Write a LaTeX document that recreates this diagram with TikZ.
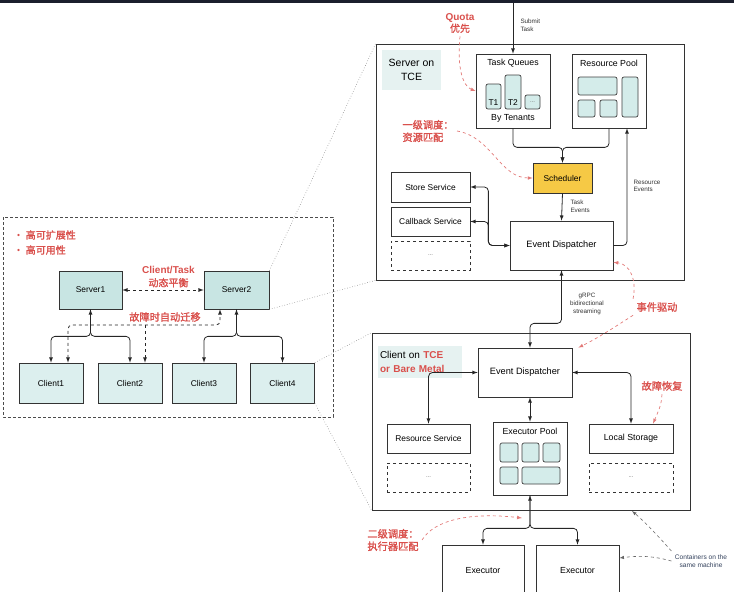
\documentclass[tikz,border=0pt]{standalone}
\usepackage{fontspec}
\setmainfont{Liberation Sans}
\newfontfamily\cjk{Noto Sans CJK SC}[AutoFakeBold=1.6]
\usepackage{xcolor}
\usepackage{tikz}
\usetikzlibrary{calc}

\definecolor{topbar}{HTML}{1B1F2D}
\definecolor{srvteal}{HTML}{C8E5E3}
\definecolor{cliteal}{HTML}{DCEFEE}
\definecolor{tileteal}{HTML}{D4ECEA}
\definecolor{lblbg}{HTML}{E6F2F1}
\definecolor{redtxt}{HTML}{D9504C}
\definecolor{redln}{HTML}{E27A78}
\definecolor{schedy}{HTML}{F6C945}
\definecolor{ctnblue}{HTML}{33415C}

\begin{document}
\begin{tikzpicture}[x=1pt,y=-1pt,
    every node/.style={font=\fontsize{8.4}{10}\selectfont},
    blk/.style={draw=black!80,line width=0.7pt,inner sep=0pt,fill=white},
    tile/.style={draw=black!75,line width=0.7pt,fill=tileteal,rounded corners=2pt},
    lbl/.style={fill=lblbg,inner sep=0pt},
    conn/.style={draw=black!85,line width=0.8pt,rounded corners=4pt},
    small/.style={font=\fontsize{6.3}{7.6}\selectfont,text=black!80,align=left},
    dots/.style={font=\fontsize{6}{7}\selectfont,text=black!60},
    redcn/.style={text=redtxt,font=\cjk\bfseries\fontsize{10.2}{12.5}\selectfont,align=left},
    redarr/.style={draw=redln,dashed,line width=0.7pt,-latex},
    ctnarr/.style={draw=black!60,dashed,line width=0.6pt,-latex},
    zoomln/.style={draw=black!45,dotted,line width=0.6pt}]
    \useasboundingbox (0,0) rectangle (734,592);
    \fill[topbar] (0,0) rectangle (734,2.5);

    \draw[black!70,densely dashed,line width=0.7pt] (3,217) rectangle (333,417);
    \node[redcn,anchor=west,font=\cjk\bfseries\fontsize{10}{15}\selectfont] (feat) at (10,242.5) {• 高可扩展性\\• 高可用性};
    \node[blk,fill=srvteal,minimum width=63pt,minimum height=38pt] (s1) at (90.5,290) {Server1};
    \node[blk,fill=srvteal,minimum width=65pt,minimum height=38pt] (s2) at (236.5,290) {Server2};
    \node[blk,fill=cliteal,minimum width=64pt,minimum height=40pt] (c1) at (51,383) {Client1};
    \node[blk,fill=cliteal,minimum width=64pt,minimum height=40pt] (c2) at (130,383) {Client2};
    \node[blk,fill=cliteal,minimum width=64pt,minimum height=40pt] (c3) at (204,383) {Client3};
    \node[blk,fill=cliteal,minimum width=64pt,minimum height=40pt] (c4) at (282.5,383) {Client4};
    \node[text=redtxt,align=center,font=\fontsize{10}{12.5}\selectfont] (bal) at (168.5,277) {\bfseries Client/Task\\{\cjk\bfseries 动态平衡}};
    \node[redcn] (migl) at (165,317) {故障时自动迁移};
    \draw[conn,dashed,latex-latex] (s1.east) -- (s2.west);
    \draw[conn,latex-latex] (s1.south) -- ++(0,27) -| (c1.north);
    \draw[conn,-latex] (s1.south) -- ++(0,27) -| (c2.north);
    \draw[conn,latex-latex] (s2.south) -- ++(0,27) -| (c3.north);
    \draw[conn,-latex] (s2.south) -- ++(0,27) -| (c4.north);
    \coordinate (mig) at (220,325);
    \draw[conn,dashed,latex-latex] ([xshift=17pt]c1.north) |- (mig) -- ([xshift=-16.5pt]s2.south);
    \draw[conn,dashed,-latex] ([xshift=15pt]c2.north |- mig) -- ([xshift=15pt]c2.north);

    \node[blk,fill=none,minimum width=308pt,minimum height=236pt] (srvbox) at (530,162) {};
    \node[lbl,minimum width=59pt,minimum height=40pt,align=center,font=\fontsize{10.5}{14}\selectfont] (srvlbl) at (411.5,70) {Server on\\TCE};
    \node[blk,minimum width=74pt,minimum height=74pt] (tq) at (513,91) {};
    \node[font=\fontsize{8.8}{10}\selectfont] (tqt) at (513,63) {Task Queues};
    \draw[tile] (486,84) rectangle (501,109);
    \draw[tile] (505,75) rectangle (521,109);
    \draw[tile] (525,95) rectangle (540,109);
    \node (t1) at (493.5,102.5) {T1};
    \node (t2) at (513,102.5) {T2};
    \node[dots] (t3) at (532.5,102) {...};
    \node[font=\fontsize{8.8}{10}\selectfont] (bytn) at (513,118) {By Tenants};
    \node[blk,minimum width=74pt,minimum height=74pt] (rp) at (609,91) {};
    \node[font=\fontsize{8.8}{10}\selectfont] (rpt) at (609,63) {Resource Pool};
    \draw[tile] (578,77) rectangle (617,95);
    \draw[tile] (622,77) rectangle (638,117);
    \draw[tile] (578,100) rectangle (595,117);
    \draw[tile] (600,100) rectangle (617,117);
    \node[blk,fill=schedy,minimum width=59pt,minimum height=30pt] (sched) at (562.5,178) {Scheduler};
    \node[blk,minimum width=103pt,minimum height=49pt,font=\fontsize{9.2}{11}\selectfont] (sed) at (561.5,245.5) {Event Dispatcher};
    \node[blk,minimum width=79pt,minimum height=30pt] (store) at (430.5,187) {Store Service};
    \node[blk,minimum width=79pt,minimum height=29pt] (cb) at (430.5,221.5) {Callback Service};
    \node[blk,dashed,minimum width=79pt,minimum height=29pt,font=\fontsize{6}{7}\selectfont,text=black!60] (sdots) at (430.5,255.5) {...};
    \coordinate (sub) at (513,3);
    \node[small,anchor=west] (subt) at (517,25) {Submit\\Task};
    \node[small,anchor=west] (tevt) at (567,206) {Task\\Events};
    \node[small,anchor=west] (revt) at (630,186) {Resource\\Events};
    \draw[conn,-latex] (sub) -- (tq.north);
    \draw[conn,-latex] (tq.south) -- ++(0,19) -| (sched.north);
    \draw[conn,-latex] (rp.south) -- ++(0,19) -| (sched.north);
    \draw[conn,-latex] (sched.south) -- (sed.north);
    \draw[conn,-latex] (sed.east) -| ([xshift=18pt]rp.south);
    \draw[conn,latex-latex] (store.east) -- ++(18,0) |- (sed.west);
    \draw[conn,latex-latex] (cb.east) -- ++(18,0) |- (sed.west);
    \node[text=redtxt,align=center,font=\fontsize{10}{12}\selectfont] (quota) at (460,23) {\bfseries Quota\\{\cjk\bfseries 优先}};
    \node[redcn] (lvl1) at (428,131) {一级调度：\\资源匹配};
    \draw[redarr] (quota.south) .. controls (457,65) and (462,86) .. (tq.west);
    \draw[redarr] (lvl1.east) .. controls (492,137) and (500,178) .. (sched.west);

    \node[blk,fill=none,minimum width=318pt,minimum height=177pt] (clbox) at (531,421.5) {};
    \node[lbl,minimum width=84pt,minimum height=32pt,text width=80pt,align=left,font=\fontsize{10}{14}\selectfont] (clilbl) at (420,362) {Client on {\color{redtxt}\bfseries TCE}\\{\color{redtxt}\bfseries or Bare Metal}};
    \node[blk,minimum width=94pt,minimum height=49pt,font=\fontsize{9.2}{11}\selectfont] (ced) at (525,372.5) {Event Dispatcher};
    \node[blk,minimum width=83pt,minimum height=29pt] (rs) at (428.5,438.5) {Resource Service};
    \node[blk,dashed,minimum width=83pt,minimum height=29pt,font=\fontsize{6}{7}\selectfont,text=black!60] (rdots) at (428.5,477.5) {...};
    \node[blk,minimum width=74pt,minimum height=73pt] (ep) at (530,458.5) {};
    \node[font=\fontsize{8.8}{10}\selectfont] (ept) at (530,431) {Executor Pool};
    \draw[tile] (500,443) rectangle (518,462);
    \draw[tile] (522,443) rectangle (539,462);
    \draw[tile] (543,443) rectangle (560,462);
    \draw[tile] (500,467) rectangle (518,484);
    \draw[tile] (522,467) rectangle (560,484);
    \node[blk,minimum width=84pt,minimum height=29pt,font=\fontsize{8.8}{10}\selectfont] (ls) at (631,438.5) {Local Storage};
    \node[blk,dashed,minimum width=84pt,minimum height=29pt,font=\fontsize{6}{7}\selectfont,text=black!60] (ldots) at (631,477.5) {...};
    \node[blk,minimum width=82pt,minimum height=52pt,font=\fontsize{8.8}{10}\selectfont] (ex1) at (483,571) {Executor};
    \node[blk,minimum width=83pt,minimum height=52pt,font=\fontsize{8.8}{10}\selectfont] (ex2) at (577.5,571) {Executor};
    \node[small,align=center,font=\fontsize{6.3}{7.6}\selectfont] (grpc) at (587,304) {gRPC\\bidirectional\\streaming};
    \draw[conn,latex-latex] (sed.south) -- ++(0,53) -| ([xshift=5pt]ced.north);
    \draw[conn,latex-latex] (ced.west) -| (rs.north);
    \draw[conn,latex-latex] (ced.east) -| (ls.north);
    \draw[conn,latex-latex] ([xshift=5pt]ced.south) -- (ep.north);
    \draw[conn,latex-latex] (ep.south) -- ++(0,33) -| (ex1.north);
    \draw[conn,-latex] (ep.south) -- ++(0,33) -| (ex2.north);
    \node[redcn] (evtl) at (657,307) {事件驱动};
    \node[redcn] (failr) at (662,386) {故障恢复};
    \node[redcn] (lvl2) at (393,540) {二级调度：\\执行器匹配};
    \node[align=center,text=ctnblue,font=\fontsize{6.6}{8}\selectfont] (ctn) at (701,561) {Containers on the\\same machine};
    \draw[redarr] (evtl.north west) .. controls (637,280) and (630,264) .. ([yshift=8pt]sed.south east);
    \draw[redarr] (evtl.south west) .. controls (618,325) and (598,338) .. ([xshift=6pt]ced.north east);
    \draw[redarr] (failr.south) .. controls (661,405) .. ([xshift=22pt]ls.north);
    \coordinate (ep2) at (522,518);
    \draw[redarr] (lvl2.east) .. controls (434,520) and (470,512) .. (ep2);
    \coordinate (clb) at (632,511);
    \draw[ctnarr] (ctn.north west) .. controls (660,538) and (645,522) .. (clb);
    \draw[ctnarr] (ctn.west) .. controls (650,555) and (636,556) .. ([yshift=13pt]ex2.east);

    \draw[zoomln] (s2.north east) -- (srvbox.north west);
    \draw[zoomln] (s2.south east) -- (srvbox.south west);
    \draw[zoomln] (c4.north east) -- (clbox.north west);
    \draw[zoomln] (c4.south east) -- (clbox.south west);
\end{tikzpicture}
\end{document}
